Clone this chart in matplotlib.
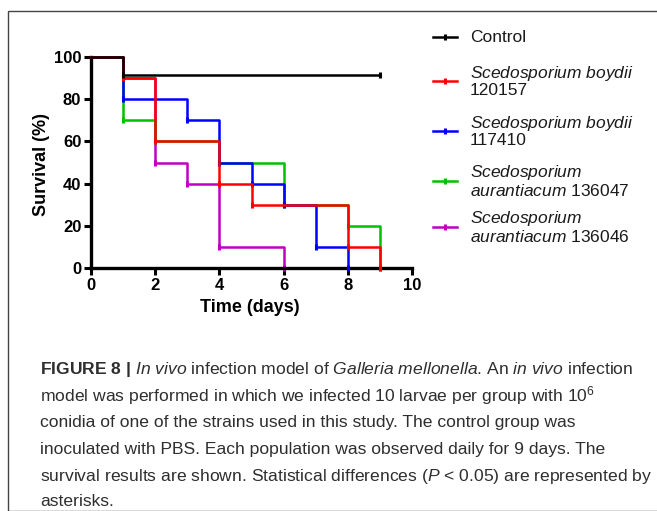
import matplotlib
matplotlib.use("Agg")
import matplotlib.pyplot as plt
from matplotlib.lines import Line2D
from matplotlib.patches import Rectangle

plt.rcParams['font.family'] = ['Liberation Sans', 'DejaVu Sans']
plt.rcParams['mathtext.fontset'] = 'custom'
plt.rcParams['mathtext.rm'] = 'Liberation Sans'
plt.rcParams['mathtext.it'] = 'Liberation Sans:italic'
plt.rcParams['mathtext.bf'] = 'Liberation Sans:bold'

# survival data (days, % alive), step changes
control_t = [0, 1, 9]
control_s = [100, 91.7, 91.7]
boy120157_t = [0, 1, 2, 4, 5, 8, 9]
boy120157_s = [100, 90, 60, 40, 30, 10, 0]
boy117410_t = [0, 1, 3, 4, 5, 6, 7, 8]
boy117410_s = [100, 80, 70, 50, 40, 30, 10, 0]
aur136047_t = [0, 1, 2, 4, 6, 8, 9]
aur136047_s = [100, 70, 60, 50, 30, 20, 0]
aur136046_t = [0, 1, 2, 3, 4, 6]
aur136046_s = [100, 90, 50, 40, 10, 0]

labels = ['Control',
          r'$\it{Scedosporium\ boydii}$' + '\n120157',
          r'$\it{Scedosporium\ boydii}$' + '\n117410',
          r'$\it{Scedosporium}$' + '\n' + r'$\it{aurantiacum}$ 136047',
          r'$\it{Scedosporium}$' + '\n' + r'$\it{aurantiacum}$ 136046']
colors = ['black', '#ff0000', '#0000ff', '#00c000', '#c000c0']

W, H = 657, 511
def fx(p): return p / W
def fy(p): return 1 - p / H

fig = plt.figure(figsize=(6.57, 5.11), dpi=100)
ax = fig.add_axes([fx(91), fy(268), fx(412 - 91), (268 - 57) / H])

series = [(control_t, control_s), (boy120157_t, boy120157_s), (boy117410_t, boy117410_s),
          (aur136047_t, aur136047_s), (aur136046_t, aur136046_s)]
zorders = [6, 5, 4, 3, 2]
for (t, s), c, z in zip(series, colors, zorders):
    ax.step(t, s, where='post', color=c, lw=1.8, zorder=z, clip_on=False)
    ax.plot(t[1:], s[1:], ls='none', marker='|', ms=4, mew=2.2, color=c, zorder=z, clip_on=False)

ax.set_xlim(0, 10)
ax.set_ylim(0, 100)
ax.set_xticks(range(0, 11, 2))
ax.set_yticks(range(0, 101, 20))
for sp in ['top', 'right']:
    ax.spines[sp].set_visible(False)
for sp in ['left', 'bottom']:
    ax.spines[sp].set_linewidth(2.4)
ax.tick_params(direction='out', length=5, width=2.2, labelsize=12, pad=2)
for lab in ax.get_xticklabels() + ax.get_yticklabels():
    lab.set_fontweight('bold')

fig.text(fx(42), fy(165), 'Survival (%)', rotation=90, ha='center', va='center',
         fontsize=13, fontweight='bold')
fig.text(fx(250), fy(308), 'Time (days)', ha='center', va='center',
         fontsize=13, fontweight='bold')

# legend
leg_y = [37.5, 81, 131, 181, 227]
for lab, c, y in zip(labels, colors, leg_y):
    fig.add_artist(Line2D([fx(433), fx(457)], [fy(y), fy(y)], color=c, lw=1.8))
    fig.add_artist(Line2D([fx(445)], [fy(y)], marker='|', ms=4, mew=2.2, color=c))
    fig.text(fx(470), fy(y), lab, ha='left', va='center', fontsize=12.5,
             color='#1a1a1a', linespacing=1.05)

# frame around figure panel
fig.add_artist(Rectangle((fx(8), 0), 1, fy(11), transform=fig.transFigure,
                         fill=False, ec='#444444', lw=1.0))

caption = [r'$\mathbf{FIGURE\ 8\ |}$ $\it{In\ vivo}$ infection model of $\it{Galleria\ mellonella}$. An $\it{in\ vivo}$ infection',
           r'model was performed in which we infected 10 larvae per group with 10$^6$',
           'conidia of one of the strains used in this study. The control group was',
           'inoculated with PBS. Each population was observed daily for 9 days. The',
           r'survival results are shown. Statistical differences ($\it{P}$ < 0.05) are represented by',
           'asterisks.']
cap_y = [369, 396, 422, 449, 476, 502]
for line, y in zip(caption, cap_y):
    fig.text(fx(40), fy(y), line, ha='left', va='center', fontsize=12.6, color='#2e2e2e')

fig.savefig('out.png', dpi=100)
